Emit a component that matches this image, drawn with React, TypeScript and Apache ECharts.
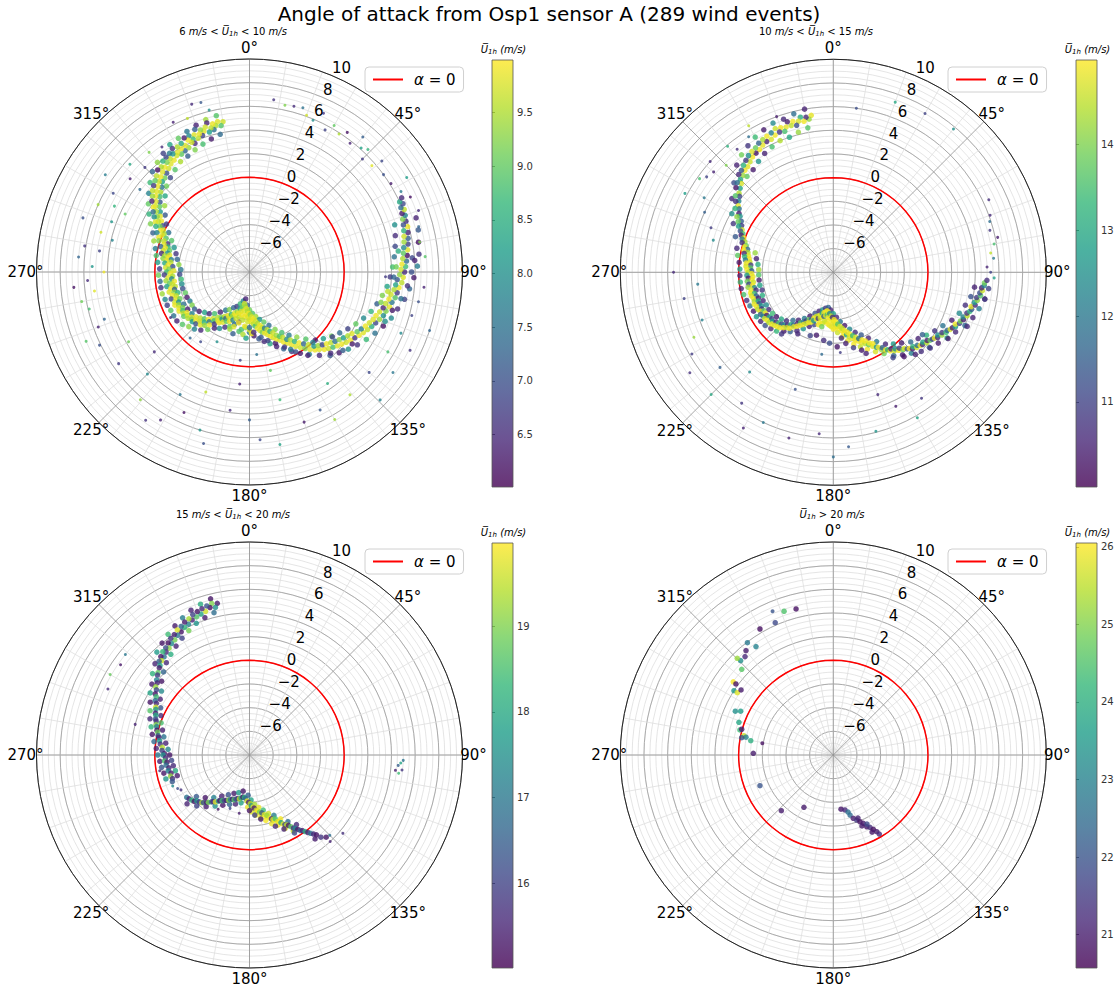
import React, { useEffect, useRef } from 'react';
import * as echarts from 'echarts';

const TITLE = 'Angle of attack from Osp1 sensor A (289 wind events)';
const SUBTITLES = [
  '6 {i|m/s} < {u|U\u0305}{s|1h} < 10 {i|m/s}',
  '10 {i|m/s} < {u|U\u0305}{s|1h} < 15 {i|m/s}',
  '15 {i|m/s} < {u|U\u0305}{s|1h} < 20 {i|m/s}',
  '{u|U\u0305}{s|1h} > 20 {i|m/s}',
];
const CBAR_TITLE = '{u|U\u0305}{s|1h} {i|(m/s)}';
const LEGEND_NAME = 'α = 0';
const RADIAL_TICKS = [-6, -4, -2, 0, 2, 4, 6, 8, 10];
const ANGLE_TICKS = [0, 45, 90, 135, 180, 225, 270, 315];
const ZERO_ANGLES = [0, 10, 20, 30, 40, 50, 60, 70, 80, 90, 100, 110, 120, 130, 140, 150, 160, 170, 180, 190, 200, 210, 220, 230, 240, 250, 260, 270, 280, 290, 300, 310, 320, 330, 340, 350, 360];
const CBAR_RANGES = [[6.01, 9.99], [10.01, 14.98], [15.01, 19.97], [20.57, 26.05]];
const CBAR_TICKS = [
  [6.5, 7.0, 7.5, 8.0, 8.5, 9.0, 9.5],
  [11, 12, 13, 14],
  [16, 17, 18, 19],
  [21, 22, 23, 24, 25, 26],
];

// [theta (deg), alpha (deg), U1h (m/s)]
const P1_CORE = [
  [350,4.9,9.7],[349,4.6,8.9],[348,5.0,9.8],[347,4.7,9.5],[346,4.4,7.5],[346,4.9,9.9],[345,4.6,9.6],[344,4.3,8.2],[344,5.1,6.4],[343,4.8,9.7],[342,4.5,9.8],[341,4.2,6.8],[341,4.7,9.3],[340,4.4,9.9],[339,4.9,7.2],[339,4.1,9.6],
  [338,4.5,9.8],[337,4.2,8.7],[337,3.8,6.5],[336,4.6,7.9],[336,4.0,9.7],[335,4.3,9.9],[334,3.7,9.4],[334,4.6,6.3],[333,4.0,9.8],[332,4.3,8.4],[332,3.6,7.3],[331,3.9,9.9],[330,4.2,9.5],[330,3.5,9.0],[329,3.8,9.8],[328,4.3,6.6],[328,3.6,9.7],[327,3.9,8.1],[326,3.4,9.9],[326,4.1,7.7],[325,3.7,9.6],
  [324,3.3,9.8],[324,4.0,6.9],[323,3.6,9.2],[322,3.1,9.7],[322,3.9,8.6],[321,3.4,9.9],[320,2.9,7.0],[320,3.6,9.5],[319,3.2,9.8],[318,2.7,9.1],[318,3.6,6.2],[317,3.0,9.9],[316,2.6,8.3],[316,3.3,9.6],[315,2.8,9.7],[314,2.3,7.6],[314,3.1,9.0],[313,2.6,9.9],[312,2.1,9.5],[312,2.9,6.7],[311,2.4,9.8],[310,1.9,8.8],[310,2.7,9.6],
  [309,2.2,9.9],[308,1.6,7.1],[308,2.4,9.4],[307,1.9,9.8],[306,1.4,9.0],[306,2.2,6.4],[305,1.7,9.7],[304,1.1,8.2],[304,1.8,9.9],[303,1.4,9.5],[302,0.9,9.8],[302,1.6,7.4],[301,1.1,9.3],[300,0.6,9.9],[300,1.3,8.0],[299,0.8,9.6],[298,0.3,6.9],[298,1.0,9.8],[297,0.5,9.1],[296,0.1,9.7],[296,0.8,8.5],[295,0.3,9.9],
  [294,-0.1,9.4],[293,0.5,7.8],[293,0.0,9.8],[292,-0.4,8.9],[291,0.2,9.9],[290,-0.3,9.6],[289,-0.7,6.6],[289,0.1,9.2],[288,-0.4,9.8],[287,-0.8,8.7],[286,-0.2,7.3],[286,-0.6,9.9],[285,-1.0,9.0],[284,-0.5,9.7],[283,-0.9,8.0],[282,-0.4,6.5],[282,-1.1,9.8],[281,-0.7,9.5],[280,-1.0,9.9],[279,-1.3,7.7],[279,-0.6,9.3],[278,-0.9,9.8],
  [277,-1.3,9.6],[276,-0.8,8.4],[275,-1.1,9.9],[274,-1.5,7.0],[273,-0.9,9.7],[272,-1.2,9.2],[271,-1.6,9.8],[270,-1.0,8.8],[269,-1.3,9.9],[268,-0.8,6.7],[267,-1.5,9.5],[266,-1.1,9.8],[265,-1.4,7.9],[264,-0.9,9.4],[263,-1.6,9.9],[262,-1.2,9.0],[261,-1.4,9.7],[260,-0.9,8.3],[259,-1.6,9.6],[258,-1.2,9.9],[257,-1.5,7.2],[256,-1.0,9.8],[255,-1.4,9.3],
  [254,-1.7,8.6],[253,-1.2,9.9],[252,-1.5,9.6],[251,-1.0,6.9],[250,-1.4,9.8],[249,-1.7,9.1],[248,-1.2,9.7],[247,-1.5,8.0],[246,-1.1,9.9],[245,-1.4,9.4],[244,-1.8,7.5],[243,-1.3,9.8],[242,-1.6,9.2],[241,-1.2,9.9],[240,-1.5,8.8],[239,-1.9,6.4],[238,-1.4,9.6],[237,-1.7,9.9],[236,-1.3,9.0],[235,-1.6,9.7],[234,-2.0,7.8],[233,-1.5,9.5],[232,-1.8,9.9],
  [231,-1.7,9.3],[230,-2.1,9.8],[229,-1.6,8.2],[228,-1.9,9.9],[227,-2.3,9.6],[226,-1.7,7.0],[225,-2.1,9.7],[224,-2.5,9.0],[223,-1.9,9.8],[222,-2.3,8.5],[221,-2.7,9.9],[220,-2.1,9.4],[219,-2.6,7.6],[218,-3.0,9.7],[217,-2.4,9.9],[216,-2.9,8.8],[215,-3.3,9.5],[214,-2.7,6.6],[213,-3.1,9.8],[212,-3.5,9.2],
  [211,-3.0,9.9],[210,-3.4,8.1],[209,-3.7,9.6],[208,-3.2,9.8],[207,-3.6,7.3],[206,-3.9,9.9],[205,-3.4,9.0],[204,-3.8,9.7],[203,-4.1,8.6],[202,-3.5,9.9],[201,-4.0,9.5],[200,-4.3,9.8],[199,-3.7,7.8],[198,-4.2,9.9],[197,-4.5,9.3],[196,-3.9,9.7],[195,-4.4,9.9],[194,-4.8,8.4],[193,-4.1,9.6],[192,-4.6,9.8],[191,-5.0,9.1],[190,-4.3,9.9],[189,-5.3,9.7],[188,-4.7,9.8],[187,-5.1,9.4],[186,-4.2,9.9],
  [196,-3.2,9.8],[192,-3.6,9.9],[188,-3.9,9.6],[185,-3.4,9.9],[182,-3.8,9.7],[190,-2.9,8.9],[186,-2.7,9.5],[180,-3.1,9.8],[195,-2.6,7.2],[183,-2.4,8.3],[178,-2.8,9.9],[199,-2.9,9.4],
  [185,-4.9,9.8],[184,-4.4,9.9],[183,-4.7,9.5],[182,-4.2,9.8],[181,-4.5,9.9],[180,-4.0,9.7],[179,-4.4,9.3],[178,-3.8,9.9],[177,-4.2,9.8],[176,-3.6,9.6],[175,-4.0,9.9],[174,-3.4,8.8],[173,-3.8,9.7],[172,-3.2,9.9],[171,-3.6,9.5],[170,-3.0,9.8],[169,-3.4,9.9],[168,-2.8,9.2],[167,-3.2,9.7],[166,-2.7,9.9],[165,-3.1,7.7],[164,-2.5,9.8],[163,-2.9,9.6],[162,-2.3,9.9],[161,-2.7,8.5],[160,-2.1,9.8],
  [176,-2.9,6.5],[170,-2.4,7.1],[165,-2.0,6.8],[180,-3.3,7.4],[160,-1.6,6.3],
  [159,-2.5,9.7],[158,-1.9,9.9],[157,-2.2,9.4],[156,-1.7,9.8],[155,-2.0,8.9],[154,-1.4,9.9],[153,-1.8,9.6],[152,-1.2,9.8],[151,-1.5,7.9],[150,-0.9,9.9],[149,-1.3,9.5],[148,-0.6,9.8],[147,-1.0,8.6],[146,-0.3,9.7],[145,-0.7,9.9],[144,0.0,9.2],[143,-0.4,7.3],[142,0.3,9.8],[141,-0.1,9.6],[140,0.6,9.9],
  [155,-1.0,6.7],[150,-0.2,7.0],[145,0.6,6.4],[152,-0.6,7.6],
  [139,0.3,8.1],[138,0.8,9.8],[137,0.5,9.4],[136,1.1,9.9],[135,0.7,6.9],[134,1.3,9.7],[133,0.9,9.9],[132,1.5,8.8],[131,1.1,9.6],[130,1.7,9.8],[129,1.3,7.5],[128,1.9,9.9],[127,1.5,9.3],[126,2.1,9.7],[125,1.7,8.2],[124,2.3,9.9],[123,1.9,9.5],[122,2.5,6.6],[121,2.1,9.8],[120,2.7,9.9],
  [135,1.7,6.5],[130,2.3,7.2],[125,2.6,6.3],[138,0.0,7.8],[128,0.9,6.8],
  [119,2.4,9.0],[118,2.9,9.8],[117,2.6,7.7],[116,3.1,9.6],[115,2.8,9.9],[114,3.3,8.5],[113,3.0,9.7],[112,3.5,6.9],[111,3.2,9.8],[110,3.7,9.4],[109,3.3,9.9],[108,3.9,8.0],[107,3.5,9.7],[106,4.0,9.2],[105,3.7,6.4],[104,4.2,9.8],[103,3.8,9.6],[102,4.3,7.6],[101,4.0,9.9],[100,4.5,8.9],
  [99,4.1,9.7],[98,4.6,6.7],[97,4.3,9.5],[96,4.7,9.9],[95,4.4,8.3],[94,4.9,9.6],[93,4.5,7.1],[92,5.0,9.8],[91,4.7,9.3],[90,5.1,6.5],[89,4.8,9.7],[88,5.2,8.7],[87,4.9,9.9],[86,5.3,7.4],[85,5.0,9.5],[84,5.4,6.2],[83,5.1,9.0],[82,5.5,9.8],[81,5.2,7.9],[80,5.6,6.8],
  [79,5.3,9.4],[78,5.7,7.2],[77,5.4,9.7],[76,5.8,6.4],[75,5.5,8.6],[74,5.9,9.9],[73,5.6,7.0],[72,5.9,6.6],[71,5.7,9.2],[70,6.0,7.8],[69,5.8,6.3],[68,6.1,9.6],[67,5.9,7.4],[66,6.2,6.9],[65,6.0,8.4],[64,6.3,6.5],
  [95,5.4,6.6],[92,4.2,7.3],[88,4.4,9.1],[85,5.8,6.9],[100,5.0,7.5],[105,4.5,6.3],[110,4.2,8.0],[98,3.8,9.6],[90,5.7,7.0],[82,4.7,8.5],[86,6.0,6.4],[103,3.4,9.2],
];
const P1_EDGE = [
  [348,5.5,8.9],[348,3.9,7.4],[344,5.4,9.4],[344,3.7,6.3],[340,5.2,6.4],[340,3.5,8.8],[336,5.0,7.6],[336,3.3,9.2],
  [332,4.8,9.0],[332,3.1,7.2],[328,4.7,8.3],[328,3.0,9.5],[324,4.4,6.8],[324,2.7,8.9],[320,4.1,9.3],[320,2.4,6.9],
  [316,3.8,7.3],[316,2.1,9.1],[312,3.3,8.7],[312,1.6,8.4],[308,2.8,7.8],[308,1.1,9.4],[304,2.3,9.0],[304,0.6,7.1],
  [300,1.8,8.6],[300,0.1,6.7],[296,1.3,9.2],[296,-0.4,7.5],[292,0.8,7.2],[292,-0.9,8.9],[288,0.5,9.4],[288,-1.3,8.1],
  [284,0.2,7.7],[284,-1.6,6.6],[280,0.0,8.8],[280,-1.8,7.3],[276,-0.2,8.2],[276,-2.0,9.3],[272,-0.4,6.7],[272,-2.2,7.6],
  [268,-0.3,9.1],[268,-2.1,6.9],[264,-0.4,7.4],[264,-2.2,8.7],[260,-0.4,6.6],[260,-2.2,8.0],[256,-0.4,9.4],[256,-2.2,7.0],
  [252,-0.5,7.9],[252,-2.3,9.0],[248,-0.5,6.8],[248,-2.3,6.3],[244,-0.6,8.9],[244,-2.4,7.7],[240,-0.6,7.5],[240,-2.4,9.2],
  [236,-0.6,6.4],[236,-2.4,7.2],[232,-0.8,8.9],[232,-2.6,6.3],[228,-1.1,9.3],[228,-2.9,8.3],[224,-1.3,7.8],[224,-3.1,6.5],
  [220,-1.6,6.5],[220,-3.4,8.8],[216,-2.0,9.1],[216,-3.8,6.4],[212,-2.4,6.4],[212,-4.2,7.6],[208,-2.6,8.0],[208,-4.4,9.2],
  [204,-2.9,6.6],[204,-4.7,7.3],[200,-3.1,9.0],[200,-4.9,6.8],[196,-3.4,7.4],[196,-5.2,8.7],[192,-3.7,6.5],[192,-5.5,7.9],
  [188,-3.1,8.8],[188,-5.7,6.4],[184,-3.3,9.3],[184,-5.2,7.2],[180,-2.9,7.6],[180,-4.8,9.1],[176,-2.6,6.3],[176,-4.5,8.9],
  [172,-2.3,7.1],[172,-4.2,9.4],[168,-2.0,6.5],[168,-3.9,8.1],[164,-1.7,8.4],[164,-3.6,9.0],[160,-1.3,6.4],[160,-3.2,7.4],
  [156,-0.9,7.3],[156,-2.7,9.2],[152,-0.4,6.6],[152,-2.2,8.8],[148,0.1,6.3],[148,-1.7,7.7],[144,0.6,7.8],[144,-1.2,9.3],
  [140,1.2,6.5],[140,-0.6,8.9],[136,1.8,7.1],[136,0.0,6.3],[132,2.2,6.3],[132,0.4,8.2],[128,2.6,8.0],[128,0.8,9.1],
  [124,3.0,6.6],[124,1.2,7.4],[120,3.4,8.7],[120,1.6,6.8],[116,3.8,7.5],[116,2.0,9.0],[112,4.2,6.2],[112,2.4,7.9],
  [108,4.6,7.9],[108,2.8,8.6],[104,4.9,6.5],[104,3.1,7.2],[100,5.3,6.8],[100,3.4,9.2],[96,5.6,7.3],[96,3.7,8.3],
  [92,5.9,6.3],[92,3.9,6.7],[88,6.2,7.7],[88,4.1,8.8],[84,6.4,6.6],[84,4.3,7.5],[80,6.5,6.2],[80,4.5,6.9],
  [76,6.7,7.1],[76,4.7,6.5],[72,6.8,6.4],[72,4.9,8.0],
];
const P1_SPARSE = [
  [18,6.6,7.5],[12,6.4,9.2],[15,6.5,6.5],[22.7,5.9,8.0],[28,5.6,6.8],[33,5.9,9.5],[40,6.9,7.2],[38,5.8,6.4],[44,6.4,8.6],[45,5.5,6.7],[49,5.7,9.8],[54,6.0,7.0],[58,6.1,6.3],[59,7.5,8.2],[25,6.8,6.6],[30,6.3,9.0],[50,6.6,6.9],[62,6.5,7.7],[35,6.4,6.2],[42,6.1,8.3],[20,6.1,9.7],[8,6.7,6.6],
  [344,6.9,7.1],[341,7.0,6.5],[338,6.0,9.6],[346,6.1,8.0],[333,6.2,6.4],
  [307,3.6,7.4],[295,3.6,9.0],[278,4.8,6.8],[272,5.3,8.1],[263,5.2,9.8],[252,4.9,7.3],[267,5.7,6.5],[296,4.7,8.6],[308,4.8,6.3],[304,6.7,7.7],[294,6.0,9.4],[279,6.1,6.6],[257,5.9,8.8],[244,6.1,7.0],[285,5.0,9.7],[300,5.3,6.9],[290,4.4,8.1],[275,6.5,7.3],[260,6.4,9.1],[250,5.6,6.4],[270,4.3,9.9],[283,3.9,7.8],[315,4.5,6.7],[312,5.6,8.4],[320,5.2,9.2],[325,4.9,6.5],[288,6.8,7.0],[265,6.9,6.2],[247,7.0,8.9],
  [209.5,3.9,7.6],[188,3.8,6.5],[166.6,3.1,8.7],[152.9,5.1,7.1],[140.7,5.4,9.5],[176.4,6.2,6.9],[197.4,6.0,8.1],[211,6.6,6.4],[220.5,6.2,9.3],[134.4,7.45,7.8],[116,7.1,6.6],[108,8.0,7.3],[186,-0.5,6.8],[168,0.5,9.0],[230,2.5,6.5],[200,2.8,9.6],[180,4.5,7.2],[160,5.5,6.3],[145,3.5,8.5],[225,4.2,7.9],[235,5.5,6.7],[240,3.8,9.1],[205,5.1,6.2],[170,6.8,8.3],[195,7.0,7.0],[215,7.3,6.6],[150,6.4,9.4],[130,5.2,6.9],[125,6.8,7.6],[120,5.5,8.8],[185,1.5,6.4],[175,-1.0,7.5],[215,-0.8,6.9],[205,-1.5,8.0],[222,-0.5,7.3],[240,-0.3,6.6],
  [100,6.5,7.0],[95,6.8,6.4],[85,6.9,8.9],[75,6.8,7.3],[70,7.2,6.5],[80,6.6,9.2],[105,6.2,6.8],[112,5.8,7.9],[65,7.0,6.2],[92,3.5,6.7],
];

const P2_CORE = [
  [352,5.4,14.8],[351,5.1,14.2],[350,5.3,10.6],[349,5.0,14.9],[348,5.4,13.1],[347,5.1,14.7],[346,4.8,11.2],[345,5.2,14.9],[344,4.9,14.5],[343,5.3,10.4],[342,4.9,14.8],[341,4.6,13.5],[340,5.0,14.9],[339,4.7,10.8],[338,5.1,14.6],[337,4.6,14.9],[336,4.9,12.2],[335,4.4,14.7],
  [334,4.8,14.9],[333,4.4,10.5],[332,4.7,14.3],[331,4.3,14.8],[330,4.6,11.6],[329,4.1,14.9],[328,4.4,13.8],[327,4.0,10.3],[326,4.3,14.7],[325,3.9,14.9],[324,4.2,12.5],[323,3.7,14.6],[322,4.0,10.9],[321,3.5,14.8],[320,3.8,13.2],[319,3.4,14.9],[318,3.6,11.4],
  [317,3.2,14.2],[316,3.5,10.6],[315,3.1,13.0],[314,2.8,14.7],[313,3.1,11.8],[312,2.6,12.9],[311,2.9,10.3],[310,2.4,14.4],[309,2.2,11.1],[308,2.5,13.6],[307,2.0,12.3],[306,2.2,10.7],[305,1.8,14.8],[304,1.6,11.9],[303,1.9,13.3],[302,1.4,10.4],[301,1.2,12.6],[300,1.4,14.1],
  [299,0.9,11.5],[298,1.1,13.8],[297,0.7,10.9],[296,0.9,12.8],[295,0.5,14.6],[294,0.6,11.3],[293,0.3,13.5],[292,0.4,10.5],[291,0.1,14.9],[290,0.2,12.1],[289,-0.1,14.3],[288,0.1,10.8],[287,-0.3,13.9],[286,-0.2,14.8],[285,-0.5,11.7],
  [284,-0.2,14.9],[283,-0.6,14.4],[282,-0.3,10.6],[281,-0.7,14.8],[280,-0.4,13.3],[279,-0.8,14.9],[278,-0.5,12.0],[277,-0.9,14.6],[276,-0.6,14.9],[275,-1.0,10.9],[274,-0.6,14.7],[273,-1.0,13.7],[272,-0.7,14.9],[271,-1.1,11.4],[270,-0.8,14.5],[269,-1.1,14.9],[268,-0.7,12.7],[267,-1.2,14.8],[266,-0.8,10.4],[265,-1.1,14.9],[264,-0.7,13.9],[263,-1.2,14.6],[262,-0.8,11.0],[261,-1.1,14.9],[260,-0.7,14.2],[259,-1.2,12.4],[258,-0.9,14.8],[257,-1.3,10.7],[256,-0.8,14.9],[255,-1.1,13.4],
  [254,-0.8,14.7],[253,-1.2,11.6],[252,-0.9,14.9],[251,-1.3,10.5],[250,-0.9,14.3],[249,-1.2,13.0],[248,-0.8,14.8],[247,-1.2,11.2],[246,-0.9,14.9],[245,-1.3,12.6],[244,-0.9,14.5],[243,-1.2,10.8],[242,-1.0,14.8],[241,-1.3,13.8],[240,-0.9,11.5],[239,-1.3,14.9],[238,-1.0,12.2],[237,-1.3,10.4],[236,-1.0,14.6],[235,-1.4,13.1],[234,-1.1,14.9],[233,-1.5,11.0],[232,-1.1,14.4],[231,-1.4,12.8],[230,-1.2,14.9],[229,-1.6,10.6],[228,-1.3,14.7],[227,-1.7,13.5],[226,-1.4,14.9],[225,-1.8,11.3],
  [224,-1.5,14.8],[223,-1.9,12.4],[222,-1.7,14.9],[221,-2.1,10.7],[220,-1.9,14.5],[219,-2.3,13.2],[218,-2.0,14.9],[217,-2.4,11.8],[216,-2.3,14.7],[215,-2.7,10.5],[214,-2.5,14.9],[213,-2.9,13.6],[212,-2.7,14.8],[211,-3.1,12.0],[210,-2.9,14.9],[209,-3.3,10.9],[208,-3.1,14.6],[207,-3.5,13.9],[206,-3.3,14.9],[205,-3.6,11.5],[204,-3.4,14.8],[203,-3.8,14.9],[202,-3.6,12.7],[201,-4.0,14.7],[200,-3.8,14.9],
  [199,-4.1,14.4],[198,-3.9,10.8],[197,-4.2,14.9],[196,-4.0,14.6],[195,-4.4,13.0],[194,-4.1,14.9],[193,-4.5,14.8],[192,-4.2,11.6],[191,-4.6,14.9],[190,-4.3,14.7],[189,-4.7,14.9],[188,-4.4,13.5],[187,-4.6,14.8],[186,-4.2,14.9],[185,-4.5,12.3],[184,-4.1,14.9],[183,-4.3,14.6],[182,-3.9,14.9],[181,-4.2,10.7],[180,-3.8,14.8],
  [195,-3.6,14.9],[190,-3.8,14.6],[186,-3.6,14.9],[182,-3.4,14.8],[178,-3.3,14.9],[192,-3.3,13.9],
  [179,-4.0,14.9],[178,-3.6,14.7],[177,-3.8,14.9],[176,-3.4,14.8],[175,-3.6,13.6],[174,-3.2,14.9],[173,-3.4,14.7],[172,-3.0,14.9],[171,-3.2,14.5],[170,-2.8,14.9],[169,-3.0,14.8],[168,-2.6,12.9],[167,-2.8,14.9],[166,-2.4,14.6],[165,-2.6,14.9],[164,-2.2,14.8],[163,-2.4,13.4],[162,-2.0,14.9],[161,-2.2,14.7],[160,-1.8,14.9],[159,-2.0,11.8],[158,-1.6,14.8],[157,-1.8,14.9],[156,-1.4,14.5],[155,-1.6,14.9],[154,-1.2,13.8],[153,-1.3,14.9],[152,-0.9,14.7],[151,-1.1,14.9],[150,-0.7,12.6],
  [195,-2.5,10.4],[188,-2.2,10.7],[177,-1.7,10.3],[183,-2.0,11.2],[170,-1.9,10.5],[165,-1.4,10.9],[160,-1.0,10.4],[200,-2.3,11.0],[210,-2.0,10.6],[220,-1.2,10.8],[173,-2.4,10.6],[158,-0.6,10.5],
  [149,-0.6,14.9],[148,-0.3,14.2],[147,-0.4,11.5],[146,-0.1,14.8],[145,0.0,13.1],[144,0.2,14.9],[143,0.1,10.6],[142,0.4,14.5],[141,0.3,12.4],[140,0.6,14.9],[139,0.5,10.9],[138,0.8,13.8],[137,0.8,14.7],[136,1.0,11.3],[135,1.1,14.9],[134,1.3,10.5],[133,1.2,13.2],[132,1.5,14.6],[131,1.4,11.8],[130,1.6,14.9],[129,1.7,10.7],[128,1.6,12.9],[127,1.9,14.4],[126,1.8,10.4],[125,2.0,13.7],
  [124,2.1,11.1],[123,2.2,14.8],[122,2.4,10.6],[121,2.3,12.5],[120,2.6,14.2],[119,2.5,10.9],[118,2.8,13.4],[117,2.8,11.6],[116,3.0,14.7],[115,3.1,10.5],[114,3.3,12.8],[113,3.2,14.9],[112,3.5,11.0],[111,3.5,13.9],[110,3.7,10.4],[109,3.6,12.3],[108,3.9,14.5],[107,3.8,10.8],[106,4.0,13.3],[105,4.1,11.4],[104,4.0,14.8],[103,4.3,10.6],[102,4.2,12.7],[101,4.4,14.1],[100,4.3,10.9],[99,4.6,13.6],[98,4.5,11.2],[97,4.7,14.6],[96,4.6,10.5],[95,4.8,12.2],[94,4.8,13.9],[93,5.0,10.7],
  [135,1.8,10.5],[128,2.4,10.8],[120,3.2,10.4],[145,0.8,11.0],[112,4.2,10.6],[100,5.0,10.9],[140,1.3,10.3],[125,1.2,11.5],
];
const P2_EDGE = [
  [350,6.0,10.5],[350,4.4,13.6],[346,5.8,11.8],[346,4.2,14.2],[342,5.6,10.6],[342,4.0,13.0],[338,5.6,12.4],[338,4.0,14.4],
  [334,5.4,10.4],[334,3.8,13.5],[330,5.2,13.4],[330,3.6,10.5],[326,4.9,10.8],[326,3.3,12.6],[322,4.6,13.9],[322,3.0,10.4],
  [318,4.2,10.5],[318,2.9,13.7],[312,3.3,11.2],[306,2.6,10.6],[300,1.9,12.5],[296,1.4,10.8],[290,0.8,11.4],
  [284,0.4,10.6],[284,-1.2,14.2],[280,0.2,13.7],[280,-1.4,10.5],[276,0.0,10.4],[276,-1.6,13.1],[272,-0.1,12.8],[272,-1.7,14.3],
  [268,-0.1,10.6],[268,-1.7,13.6],[264,-0.1,13.3],[264,-1.7,10.4],[260,-0.1,10.5],[260,-1.7,12.9],[256,-0.2,13.5],[256,-1.8,10.8],
  [252,-0.3,10.7],[252,-1.7,13.1],[248,-0.4,11.9],[248,-1.6,10.5],[244,-0.5,10.4],[244,-1.7,12.4],[240,-0.5,12.7],[240,-1.7,10.6],
  [236,-0.6,10.5],[236,-1.8,13.4],[232,-0.7,11.2],[232,-1.9,10.4],[228,-0.9,10.6],[228,-2.1,13.0],[224,-1.1,13.3],[224,-2.3,10.7],
  [220,-1.5,10.4],[220,-2.7,11.8],[216,-1.8,11.5],[216,-3.0,10.5],[212,-2.2,10.6],[212,-3.4,12.1],[208,-2.6,12.6],[208,-3.8,10.4],
  [204,-3.0,10.5],[204,-4.2,11.3],[200,-3.3,11.1],[200,-4.5,10.6],[196,-3.4,14.9],[196,-4.7,12.5],[192,-3.6,14.7],[192,-4.9,10.8],
  [188,-3.8,14.9],[188,-5.0,11.6],[184,-3.5,14.8],[184,-4.8,10.5],[180,-3.2,14.9],[180,-4.5,12.8],[176,-2.9,14.6],[176,-4.2,10.6],
  [172,-2.5,14.9],[172,-3.8,11.9],[168,-2.1,14.8],[168,-3.4,10.4],[164,-1.7,14.9],[164,-3.0,12.3],[160,-1.3,14.5],[160,-2.6,10.7],
  [156,-0.9,14.9],[156,-2.2,11.4],[152,-0.4,14.7],[152,-1.7,10.5],[148,0.1,13.9],[148,-1.1,12.0],[144,0.7,11.6],[144,-0.5,10.6],
  [140,1.1,10.5],[140,-0.1,12.7],[136,1.5,12.2],[136,0.3,10.4],[132,2.0,10.7],[132,0.8,11.7],[128,2.3,11.4],[128,1.1,10.5],
  [124,2.7,10.4],[124,1.5,13.2],[120,3.1,13.0],[120,1.9,10.8],[116,3.5,10.6],[116,2.3,11.9],[112,4.0,11.7],[112,2.8,10.4],
  [108,4.4,10.5],[108,3.2,12.4],[104,4.7,12.1],[104,3.5,10.7],[100,5.0,10.4],[100,3.8,11.3],[96,5.2,11.0],[96,4.0,10.5],
];
const P2_SPARSE = [
  [90,5.3,11.0],[88,5.0,10.5],[85,5.6,12.0],[80,5.8,13.5],[75,5.7,10.8],[72,5.9,11.8],[78,6.2,10.4],[83,5.4,14.5],[70,6.1,10.6],[92,5.6,12.8],[65,6.5,10.7],[20,7.3,13.0],[30,7.5,11.0],[40,7.8,12.5],[8,6.0,11.2],
  [307,5.4,11.0],[305,5.8,13.5],[310,5.2,10.5],[300,4.6,12.0],[315,4.8,14.0],[322,5.2,10.7],[295,4.0,11.5],[298,6.2,12.8],[290,3.0,10.9],[320,5.9,13.2],[285,2.5,12.4],[312,6.0,10.6],[330,6.3,14.5],[328,5.5,11.8],[340,6.0,10.4],
  [215,5.5,10.8],[205,6.0,12.0],[195,6.5,10.5],[230,4.5,11.5],[225,6.6,13.0],[185,5.7,10.6],[175,6.8,11.4],[165,5.9,12.6],[155,4.5,10.4],[240,5.8,10.9],[250,3.8,12.2],[235,6.8,10.7],[180,7.6,11.8],[210,7.2,10.5],[198,2.4,11.3],[160,3.0,10.6],[150,6.2,12.9],[145,5.0,10.8],[220,3.0,12.4],[188,-1.0,11.7],[175,-1.2,10.9],[245,5.0,14.2],[260,4.8,11.0],[270,5.5,10.6],[265,3.5,12.0],
];

const P3_CORE = [
  [348,5.1,15.4],[347,4.8,17.5],[346,5.2,19.0],[345,4.9,15.2],[344,5.1,16.3],[343,4.7,19.6],[342,5.0,15.6],[341,4.6,17.9],[340,4.9,15.3],[339,4.5,18.6],[338,4.8,16.0],[337,4.4,15.5],[336,4.6,19.3],[335,4.2,17.2],[334,4.5,15.4],[333,4.1,18.2],[332,4.3,16.6],[331,3.9,15.3],[330,4.2,19.7],[329,3.8,16.9],[328,4.0,15.5],[327,3.6,18.9],[326,3.9,15.8],[325,3.5,17.4],[324,3.7,15.2],[323,3.3,19.1],[322,3.5,16.2],[321,3.2,15.6],[320,3.4,18.3],[319,3.0,17.0],[318,3.2,15.3],[317,2.9,19.5],[316,3.0,16.4],
  [315,2.7,17.8],[314,2.6,15.4],[312,2.4,18.7],[311,2.3,15.9],[309,2.1,17.3],[308,1.9,15.5],[306,1.8,19.2],[305,1.6,16.1],[303,1.5,15.3],[302,1.3,18.4],[300,1.2,16.7],[299,1.0,15.6],[297,0.9,19.6],[296,0.8,17.6],[294,0.7,15.4],[293,0.6,18.0],[291,0.5,16.3],[290,0.4,15.7],[288,0.3,19.0],[287,0.2,17.1],[285,0.1,15.3],[284,0.0,18.8],[282,-0.1,16.5],[281,-0.2,15.5],[279,-0.3,17.7],[277,-0.4,15.8],[275,-0.6,19.4],[273,-0.6,16.0],
  [271,-0.8,15.4],[270,-0.7,17.5],[268,-0.9,15.6],[266,-0.8,18.5],[265,-1.0,15.3],[263,-0.9,16.8],[261,-1.1,15.5],[259,-1.0,17.2],[257,-1.2,15.4],[255,-1.1,19.1],[253,-1.2,15.7],[251,-1.1,16.4],
  [236,-1.6,16.9],[234,-1.7,15.5],[232,-1.8,18.2],[230,-1.9,15.3],[229,-2.1,17.6],[227,-2.2,15.8],[225,-2.3,19.3],[224,-2.4,16.2],[222,-2.6,15.4],[221,-2.7,18.9],[219,-2.9,16.6],[218,-3.0,15.6],[216,-3.1,19.7],[214,-3.3,17.3],[213,-3.4,15.3],[211,-3.5,18.4],[209,-3.6,16.0],[207,-3.7,15.5],[205,-3.8,19.0],[203,-3.9,17.0],[201,-4.0,15.4],[199,-4.0,18.6],[197,-4.1,16.3],[195,-4.2,15.7],[193,-4.2,19.5],[191,-4.3,17.8],[189,-4.4,15.3],[187,-4.4,18.1],
  [185,-4.3,16.7],[183,-4.1,19.8],[181,-4.0,15.5],[179,-3.9,19.4],[178,-3.7,17.5],[176,-3.6,19.8],[175,-3.5,15.4],[173,-3.3,19.6],[172,-3.2,19.9],[170,-3.1,18.9],[169,-2.9,19.8],[168,-3.0,16.4],[166,-2.8,19.7],[165,-2.6,19.9],[164,-2.7,19.2],[162,-2.4,19.8],[161,-2.3,15.6],[160,-2.2,19.6],[159,-2.1,19.9],[158,-2.2,18.5],[157,-1.9,19.7],[156,-1.8,19.9],[155,-1.7,17.9],[154,-1.5,19.8],[153,-1.4,16.2],[152,-1.3,19.5],[151,-1.2,15.4],[150,-1.0,18.7],[149,-0.8,15.7],[148,-0.7,17.2],[147,-0.5,15.3],[146,-0.3,16.6],[145,-0.2,15.5],[144,0.0,18.0],[143,0.2,15.4],[142,0.4,16.9],[141,0.6,15.6],[140,0.8,15.3],
  [170,-2.5,15.4],[160,-1.6,15.6],[175,-2.9,16.0],[180,-3.3,15.3],[155,-1.1,15.5],[150,-0.4,16.1],
];
const P3_EDGE = [
  [346,5.6,15.3],[346,4.4,16.8],[342,5.4,18.1],[342,4.2,15.4],[338,5.2,15.5],[338,4.0,17.6],[334,4.9,17.1],[334,3.7,18.9],
  [330,4.6,15.4],[330,3.4,16.0],[326,4.3,18.4],[326,3.1,15.5],[322,4.0,15.3],[322,2.8,18.1],[318,3.7,17.7],[318,2.5,15.6],
  [314,3.1,15.5],[314,2.1,16.6],[310,2.7,18.2],[310,1.7,15.3],[306,2.2,15.4],[306,1.2,17.4],[302,1.9,17.9],[302,0.9,15.5],
  [298,1.5,15.3],[298,0.5,16.3],[294,1.2,18.6],[294,0.2,15.6],[290,0.95,15.6],[290,-0.05,18.5],[286,0.65,18.2],[286,-0.35,15.4],
  [282,0.4,15.3],[282,-0.6,16.9],[278,0.15,16.7],[278,-0.85,15.5],[274,-0.1,15.5],[274,-1.1,17.3],[270,-0.25,17.0],[270,-1.25,15.3],
  [266,-0.4,15.4],[266,-1.4,16.1],[262,-0.5,16.3],[262,-1.5,15.6],[258,-0.6,15.3],[258,-1.6,18.0],[254,-0.65,17.6],[254,-1.65,15.4],
  [232,-1.3,15.5],[232,-2.3,16.4],[226,-1.8,16.0],[226,-2.8,15.3],[220,-2.3,15.4],[220,-3.3,17.2],[214,-2.8,17.5],[214,-3.8,15.5],
  [208,-3.2,15.3],[208,-4.2,16.3],[202,-3.5,16.6],[202,-4.5,15.4],[196,-3.7,15.5],[196,-4.7,17.7],[190,-3.9,17.9],[190,-4.9,15.3],
  [182,-3.6,19.8],[178,-3.2,19.7],[174,-2.9,19.9],[170,-2.6,19.6],[166,-2.3,19.9],[162,-1.9,19.8],[158,-1.6,19.9],[154,-1.1,19.7],[150,-0.6,19.5],
  [182,-4.6,16.5],[178,-4.2,17.9],[174,-3.8,19.3],[170,-3.5,19.8],[166,-3.2,18.4],[162,-2.8,19.6],[158,-2.5,17.1],[154,-2.0,19.9],[150,-1.5,16.8],[146,-0.9,15.6],
  [142,1.0,15.4],[139,1.2,15.8],[137,1.5,15.3],
];
const P3_SPARSE = [
  [94,4.6,16.5],[95.6,4.95,15.8],[93,4.8,17.9],[96,4.4,15.4],[92,5.0,16.9],[97,4.7,18.4],[295,5.2,15.6],[309,5.5,17.0],[305,5.3,15.3],[300,5.6,18.8],[245,-1.3,16.2],[243,-1.5,15.7],[248,-1.0,17.4],[137,2.0,15.5],[135,1.6,16.8],[190,-3.0,15.4],[200,-3.2,16.0],[260,-0.3,15.6],[210,-2.7,15.3],[130,2.3,15.7],[285,2.0,15.5],
];

const P4_CORE = [
  [345.7,4.74,20.8],[341.1,4.84,24.5],[336.3,4.21,21.8],[329.8,4.32,20.8],[324.5,3.25,23.0],[322.6,3.95,22.8],[320.1,3.5,21.0],[318.1,3.17,21.2],[315.5,3.18,23.3],[315.2,3.52,25.2],[313.1,2.6,24.6],[306.2,2.48,26.0],[306.1,2.19,20.8],[302.9,2.0,23.5],[303,1.67,25.8],[305.2,1.54,21.0],
  [294.1,1.07,23.3],[295.3,0.66,23.6],[289.1,0.44,23.8],[285,0.17,24.3],[285.7,0.04,21.0],[282.2,-0.27,25.6],[281.5,-0.47,23.0],[280.7,-0.12,22.0],[279.8,-0.92,24.0],[271.2,-1.24,21.0],[247.3,-1.28,22.0],[223,-1.56,21.0],[209.3,-2.93,21.0],[171.9,-3.37,20.9],[168,-3.25,21.2],
  [164.4,-2.73,22.5],[162.5,-2.39,21.0],[160.2,-2.16,21.5],[158.2,-1.93,20.8],[156.3,-1.69,21.0],[155,-1.31,20.9],[153.1,-1.14,21.3],[151.7,-0.87,20.8],[150.5,-0.55,21.0],[149.8,-0.27,21.2],[165.5,-3.02,22.6],[158.6,-2.28,21.1],[154,-1.51,21.8],[153.3,-0.71,20.9],[158,-1.53,21.0],
];
const P4_EDGE: number[][] = [];
const P4_SPARSE = [
  [337.1,5.19,22.0],[279.4,-1.92,20.8],
];

const PLOTS = [
  { core: [...P1_EDGE, ...P1_CORE], sparse: P1_SPARSE },
  { core: [...P2_EDGE, ...P2_CORE], sparse: P2_SPARSE },
  { core: [...P3_EDGE, ...P3_CORE], sparse: P3_SPARSE },
  { core: [...P4_EDGE, ...P4_CORE], sparse: P4_SPARSE },
];

// layout
const R = 213;
const R_MIN = -8;
const R_MAX = 10;
const CENTERS = [[249.5, 272], [833.3, 272.3], [249.5, 755], [833.3, 755]];
const SUB_POS = [[233, 31], [816, 31], [233, 514], [832, 514]];
const LEGEND_POS = [[365, 67], [948, 67], [365, 549], [948, 549]];
const CBAR_BOX = [[492, 60, 21, 427], [1076, 60, 21, 427], [492, 543, 21, 425], [1076, 543, 21, 425]];
const VIRIDIS = ['#440154', '#482878', '#3e4989', '#31688e', '#26828e', '#1f9e89', '#35b779', '#6ece58', '#b5de2b', '#fde725'];
const FONT = 'DejaVu Sans';

function rgba(hex: string, a: number) {
  const n = parseInt(hex.slice(1), 16);
  return `rgba(${(n >> 16) & 255},${(n >> 8) & 255},${n & 255},${a})`;
}

const RICH = {
  i: { fontStyle: 'italic', fontSize: 10, fontFamily: FONT, fill: '#000', lineHeight: 12 },
  u: { fontStyle: 'italic', fontSize: 10, fontFamily: FONT, fill: '#000', lineHeight: 12 },
  s: { fontStyle: 'italic', fontSize: 7, fontFamily: FONT, fill: '#000', lineHeight: 6, verticalAlign: 'bottom' },
};

function buildOption() {
  const polar: any[] = [];
  const angleAxis: any[] = [];
  const radiusAxis: any[] = [];
  const series: any[] = [];
  const visualMap: any[] = [];
  const legend: any[] = [];
  const grid: any[] = [];
  const xAxis: any[] = [];
  const yAxis: any[] = [];
  const graphic: any[] = [];

  graphic.push({
    type: 'text', x: 549, y: 14, z: 10,
    style: { text: TITLE, fontSize: 20, lineHeight: 22, fontFamily: FONT, fill: '#000', align: 'center', verticalAlign: 'middle' },
  });

  PLOTS.forEach((p, i) => {
    const [cx, cy] = CENTERS[i];
    // minor grid polar
    polar.push({ center: [cx, cy], radius: R });
    angleAxis.push({
      polarIndex: 2 * i, type: 'value', min: 0, max: 360, interval: 10, startAngle: 90, clockwise: true,
      axisLine: { show: false }, axisTick: { show: false }, axisLabel: { show: false },
      splitLine: { show: true, lineStyle: { color: '#dedede', width: 0.8 } },
    });
    radiusAxis.push({
      polarIndex: 2 * i, type: 'value', min: R_MIN, max: R_MAX, interval: 0.5,
      axisLine: { show: false }, axisTick: { show: false }, axisLabel: { show: false },
      splitLine: { show: true, lineStyle: { color: '#dedede', width: 0.8 } },
    });
    // major grid polar
    polar.push({ center: [cx, cy], radius: R });
    angleAxis.push({
      polarIndex: 2 * i + 1, type: 'value', min: 0, max: 360, interval: 45, startAngle: 90, clockwise: true,
      axisLine: { show: true, lineStyle: { color: '#222', width: 1 } },
      axisTick: { show: false },
      axisLabel: { show: false },
      splitLine: { show: true, lineStyle: { color: '#8f8f8f', width: 0.8 } },
    });
    radiusAxis.push({
      polarIndex: 2 * i + 1, type: 'value', min: R_MIN, max: R_MAX, interval: 2,
      axisLine: { show: false }, axisTick: { show: false }, axisLabel: { show: false },
      splitLine: { show: true, lineStyle: { color: '#9c9c9c', width: 0.8 } },
    });

    const toPolar = (arr: number[][]) => arr.map(([t, a, u]) => [a, t, u]);
    series.push({
      type: 'scatter', coordinateSystem: 'polar', polarIndex: 2 * i + 1, z: 3,
      symbol: 'circle', symbolSize: i === 3 ? 5.5 : 5.5, itemStyle: { opacity: 0.8 },
      data: toPolar(p.core), silent: true,
    });
    series.push({
      type: 'scatter', coordinateSystem: 'polar', polarIndex: 2 * i + 1, z: 3,
      symbol: 'circle', symbolSize: i === 3 ? 4 : 3, itemStyle: { opacity: 0.8 },
      data: toPolar(p.sparse), silent: true,
    });
    series.push({
      type: 'line', name: LEGEND_NAME, coordinateSystem: 'polar', polarIndex: 2 * i + 1, z: 2,
      data: ZERO_ANGLES.map((a) => [0, a]), showSymbol: false, symbol: 'none', smooth: true,
      lineStyle: { color: '#ff0000', width: 1.5 }, itemStyle: { color: '#ff0000' }, silent: true,
    });

    const [vmin, vmax] = CBAR_RANGES[i];
    visualMap.push({
      type: 'continuous', show: false, seriesIndex: [3 * i, 3 * i + 1], dimension: 2,
      min: vmin, max: vmax, inRange: { color: VIRIDIS },
    });

    legend.push({
      data: [LEGEND_NAME], left: LEGEND_POS[i][0], top: LEGEND_POS[i][1],
      icon: 'rect', itemWidth: 30, itemHeight: 2, padding: [5, 8],
      borderColor: '#d0d0d0', borderWidth: 1, borderRadius: 4, backgroundColor: 'rgba(255,255,255,0.85)',
      selectedMode: false,
      formatter: () => '{a|α} = 0',
      textStyle: {
        fontSize: 15, fontFamily: FONT, color: '#000', padding: [0, 0, 0, 6],
        rich: { a: { fontStyle: 'italic', fontSize: 15, fontFamily: FONT } },
      },
    });

    // colorbar
    const [bx, by, bw, bh] = CBAR_BOX[i];
    const ticks = CBAR_TICKS[i];
    grid.push({ left: bx, top: by, width: bw, height: bh });
    xAxis.push({ gridIndex: i, type: 'value', min: 0, max: 1, show: false });
    yAxis.push({
      gridIndex: i, type: 'value', min: vmin, max: vmax, position: 'right',
      axisLine: { show: false }, splitLine: { show: false },
      axisTick: { show: true, length: 3, lineStyle: { color: '#333' }, customValues: ticks },
      axisLabel: {
        show: true, fontSize: 10, color: '#333', fontFamily: FONT, margin: 4, customValues: ticks,
        formatter: (v: number) => (i === 0 ? v.toFixed(1) : String(Math.round(v))),
      },
    });
    graphic.push({
      type: 'rect', z: 5,
      shape: { x: bx, y: by, width: bw, height: bh },
      style: {
        fill: new echarts.graphic.LinearGradient(0, 1, 0, 0,
          VIRIDIS.map((c, k) => ({ offset: k / (VIRIDIS.length - 1), color: rgba(c, 0.8) }))),
        stroke: '#555', lineWidth: 0.8,
      },
    });
    graphic.push({
      type: 'text', x: bx + bw / 2 + 1, y: by - 11, z: 10,
      style: { text: CBAR_TITLE, rich: RICH, fontSize: 10, fontFamily: FONT, fill: '#000', align: 'center', verticalAlign: 'middle' },
    });

    // subplot title
    graphic.push({
      type: 'text', x: SUB_POS[i][0], y: SUB_POS[i][1], z: 10,
      style: { text: SUBTITLES[i], rich: RICH, fontSize: 10, fontFamily: FONT, fill: '#000', align: 'center', verticalAlign: 'middle' },
    });

    // angle tick labels, centred just outside the outer circle
    ANGLE_TICKS.forEach((a) => {
      const t = (a * Math.PI) / 180;
      graphic.push({
        type: 'text', z: 10,
        x: cx + (R + 11) * Math.sin(t),
        y: cy - (R + 11) * Math.cos(t),
        style: { text: `${a}°`, fontSize: 15, fontFamily: FONT, fill: '#000', align: 'center', verticalAlign: 'middle' },
      });
    });

    // radial tick labels along the 22.5 deg direction
    const ang = (22.5 * Math.PI) / 180;
    RADIAL_TICKS.forEach((r) => {
      const d = ((r - R_MIN) / (R_MAX - R_MIN)) * R;
      graphic.push({
        type: 'text', z: 10,
        x: cx + d * Math.sin(ang) + 1,
        y: cy - d * Math.cos(ang) - 7.5,
        style: {
          text: r < 0 ? `\u2212${Math.abs(r)}` : String(r),
          fontSize: 15, fontFamily: FONT, fill: '#000', align: 'left', verticalAlign: 'middle',
        },
      });
    });
  });

  return {
    animation: false,
    backgroundColor: '#fff',
    textStyle: { fontFamily: FONT },
    polar, angleAxis, radiusAxis, series, visualMap, legend, grid, xAxis, yAxis, graphic,
  };
}

export default function App() {
  const ref = useRef<HTMLDivElement>(null);
  useEffect(() => {
    if (!ref.current) return;
    const chart = echarts.init(ref.current, undefined, { renderer: 'svg' });
    chart.setOption(buildOption() as any);
    return () => chart.dispose();
  }, []);
  return <div ref={ref} style={{ position: 'absolute', left: 0, top: 0, width: 1118, height: 989 }} />;
}
